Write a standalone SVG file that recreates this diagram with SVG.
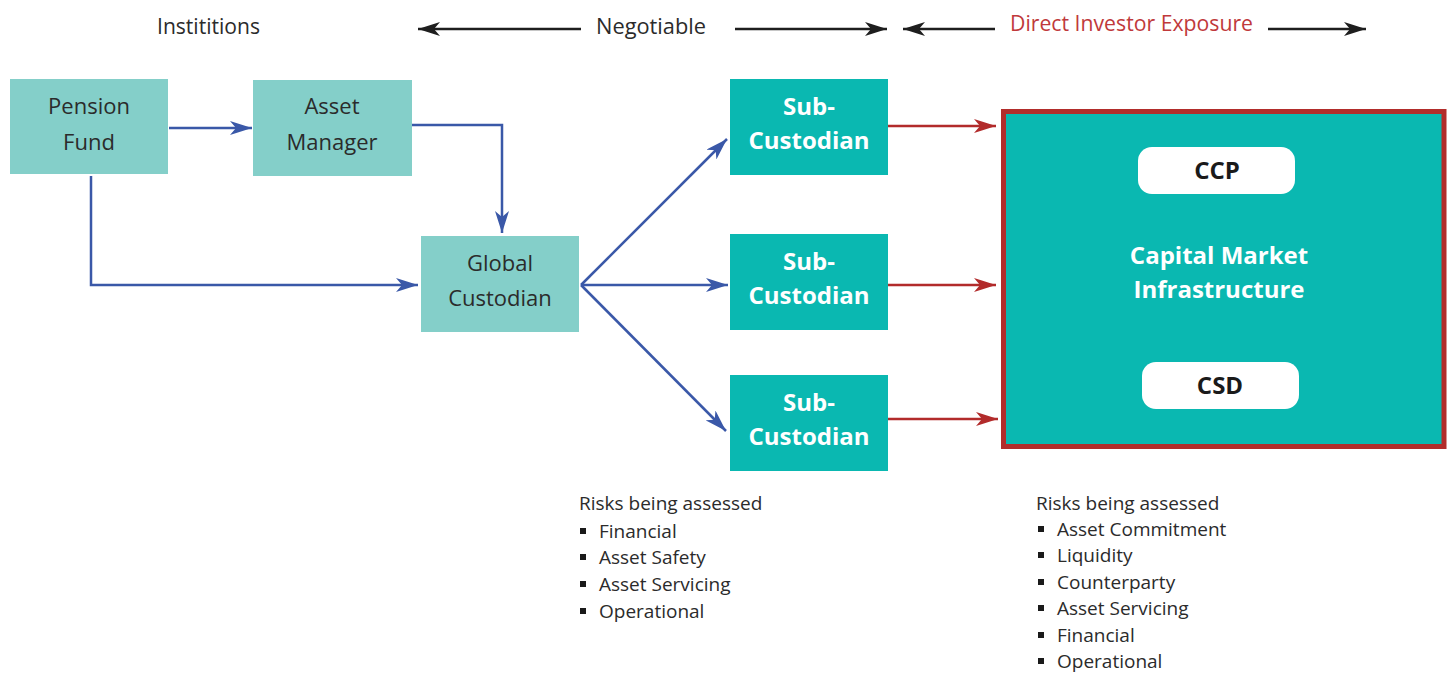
<svg xmlns="http://www.w3.org/2000/svg" width="1453" height="673" viewBox="0 0 1453 673">
<style>
text{font-family:"Open Sans","Noto Sans","DejaVu Sans",sans-serif;}
.hdr{font-size:22px;fill:#2b2b2b;}
.red{fill:#c0393b;}
.lbox{fill:#84cfc9;}
.dbox{fill:#0ab8b1;}
.lt{font-size:22px;fill:#2b2b2b;text-anchor:middle;}
.dt{font-size:24px;font-weight:bold;fill:#ffffff;text-anchor:middle;}
.pill{fill:#ffffff;}
.pt{font-size:24px;font-weight:bold;fill:#1a1a1a;text-anchor:middle;}
.risk{font-size:19px;fill:#2b2b2b;}
.bul{fill:#1a1a1a;}
.blk{stroke:#1e1e1e;stroke-width:2.5;fill:none;}
.blu{stroke:#3a58a8;stroke-width:2.5;fill:none;}
.rd{stroke:#b22b2b;stroke-width:2.5;fill:none;}
</style>
<defs>
<marker id="ab" markerUnits="userSpaceOnUse" markerWidth="24" markerHeight="14" refX="22" refY="7" orient="auto"><path d="M0,0 L22,7 L0,14 L6,7 Z" fill="#1e1e1e"/></marker>
<marker id="au" markerUnits="userSpaceOnUse" markerWidth="24" markerHeight="14" refX="22" refY="7" orient="auto"><path d="M0,0 L22,7 L0,14 L6,7 Z" fill="#3a58a8"/></marker>
<marker id="ar" markerUnits="userSpaceOnUse" markerWidth="24" markerHeight="14" refX="22" refY="7" orient="auto"><path d="M0,0 L22,7 L0,14 L6,7 Z" fill="#b22b2b"/></marker>
</defs>
<rect width="1453" height="673" fill="#ffffff"/>
<g id="header">
<text class="hdr" x="157" y="34" textLength="103" lengthAdjust="spacingAndGlyphs">Instititions</text>
<text class="hdr" x="596" y="34" textLength="110" lengthAdjust="spacingAndGlyphs">Negotiable</text>
<text class="hdr red" x="1010" y="31" textLength="243" lengthAdjust="spacingAndGlyphs">Direct Investor Exposure</text>
<line class="blk" x1="581" y1="29" x2="418" y2="29" marker-end="url(#ab)"/>
<line class="blk" x1="735" y1="29" x2="887" y2="29" marker-end="url(#ab)"/>
<line class="blk" x1="995" y1="29" x2="903" y2="29" marker-end="url(#ab)"/>
<line class="blk" x1="1268" y1="29" x2="1366" y2="29" marker-end="url(#ab)"/>
</g>
<g id="connectors">
<line class="blu" x1="169" y1="128" x2="252" y2="128" marker-end="url(#au)"/>
<polyline class="blu" points="412,125 502,125 502,233" marker-end="url(#au)"/>
<polyline class="blu" points="91,176 91,285 418,285" marker-end="url(#au)"/>
<line class="blu" x1="581" y1="285" x2="727" y2="139" marker-end="url(#au)"/>
<line class="blu" x1="581" y1="285" x2="728" y2="285" marker-end="url(#au)"/>
<line class="blu" x1="581" y1="285" x2="726" y2="431" marker-end="url(#au)"/>
<line class="rd" x1="888" y1="126" x2="996" y2="126" marker-end="url(#ar)"/>
<line class="rd" x1="888" y1="285" x2="996" y2="285" marker-end="url(#ar)"/>
<line class="rd" x1="888" y1="419" x2="998" y2="419" marker-end="url(#ar)"/>
</g>
<g id="pension-fund">
<rect class="lbox" x="10" y="79" width="158" height="95"/>
<text class="lt" x="89" y="114">Pension</text>
<text class="lt" x="89" y="150">Fund</text>
</g>
<g id="asset-manager">
<rect class="lbox" x="253" y="80" width="159" height="96"/>
<text class="lt" x="332" y="114">Asset</text>
<text class="lt" x="332" y="150">Manager</text>
</g>
<g id="global-custodian">
<rect class="lbox" x="421" y="236" width="158" height="96"/>
<text class="lt" x="500" y="271">Global</text>
<text class="lt" x="500" y="306">Custodian</text>
</g>
<g id="sub-custodian-1">
<rect class="dbox" x="730" y="79" width="158" height="96"/>
<text class="dt" x="809" y="115">Sub-</text>
<text class="dt" x="809" y="149">Custodian</text>
</g>
<g id="sub-custodian-2">
<rect class="dbox" x="730" y="234" width="158" height="96"/>
<text class="dt" x="809" y="270">Sub-</text>
<text class="dt" x="809" y="304">Custodian</text>
</g>
<g id="sub-custodian-3">
<rect class="dbox" x="730" y="375" width="158" height="96"/>
<text class="dt" x="809" y="411">Sub-</text>
<text class="dt" x="809" y="445">Custodian</text>
</g>
<g id="capital-market-infrastructure">
<rect x="1003.5" y="111.5" width="440.5" height="335" fill="#0ab8b1" stroke="#b22d2b" stroke-width="5"/>
<text class="dt" x="1219" y="264">Capital Market</text>
<text class="dt" x="1219" y="298">Infrastructure</text>
</g>
<g id="ccp">
<rect class="pill" x="1138" y="147" width="157" height="47" rx="14"/>
<text class="pt" x="1217" y="179">CCP</text>
</g>
<g id="csd">
<rect class="pill" x="1142" y="362" width="157" height="47" rx="14"/>
<text class="pt" x="1220" y="394">CSD</text>
</g>
<g id="risks-left">
<text class="risk" x="579" y="510">Risks being assessed</text>
<rect class="bul" x="580" y="528" width="6" height="6"/><text class="risk" x="599" y="538">Financial</text>
<rect class="bul" x="580" y="554" width="6" height="6"/><text class="risk" x="599" y="564">Asset Safety</text>
<rect class="bul" x="580" y="581" width="6" height="6"/><text class="risk" x="599" y="591">Asset Servicing</text>
<rect class="bul" x="580" y="608" width="6" height="6"/><text class="risk" x="599" y="618">Operational</text>
</g>
<g id="risks-right">
<text class="risk" x="1036" y="510">Risks being assessed</text>
<rect class="bul" x="1038" y="526" width="6" height="6"/><text class="risk" x="1057" y="536">Asset Commitment</text>
<rect class="bul" x="1038" y="552" width="6" height="6"/><text class="risk" x="1057" y="562">Liquidity</text>
<rect class="bul" x="1038" y="579" width="6" height="6"/><text class="risk" x="1057" y="589">Counterparty</text>
<rect class="bul" x="1038" y="605" width="6" height="6"/><text class="risk" x="1057" y="615">Asset Servicing</text>
<rect class="bul" x="1038" y="632" width="6" height="6"/><text class="risk" x="1057" y="642">Financial</text>
<rect class="bul" x="1038" y="658" width="6" height="6"/><text class="risk" x="1057" y="668">Operational</text>
</g>
</svg>
